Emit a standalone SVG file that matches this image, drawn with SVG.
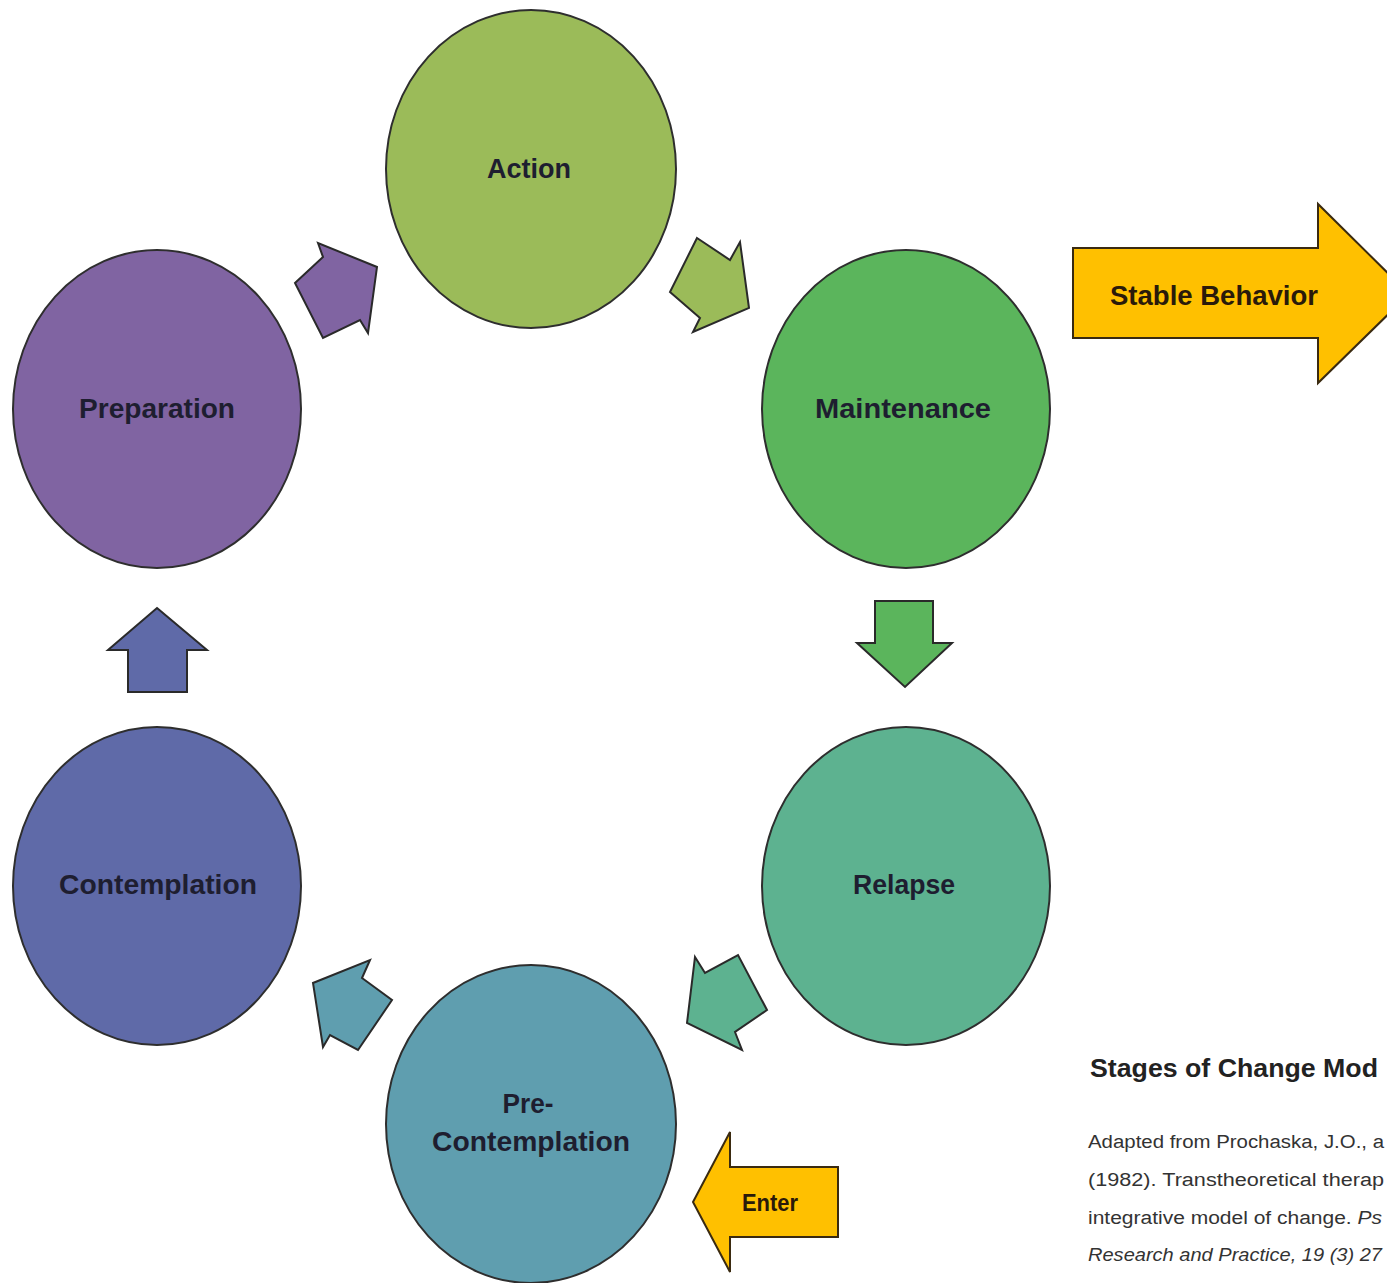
<svg xmlns="http://www.w3.org/2000/svg" width="1387" height="1283" viewBox="0 0 1387 1283">
<style>
.node{stroke:#2e2e2e;stroke-width:2}
.arr{stroke:#2a2a2a;stroke-width:2;stroke-linejoin:miter}
.lbl{font-family:"Liberation Sans",Arial,sans-serif;font-weight:bold;font-size:27px;fill:#1e1e30;text-anchor:middle}
.yl{fill:#FFC000;stroke:#3a2a10;stroke-width:2}
.ylt{font-family:"Liberation Sans",Arial,sans-serif;font-weight:bold;font-size:27px;fill:#2a1a0a;text-anchor:middle}
.title{font-family:"Liberation Sans",Arial,sans-serif;font-weight:bold;font-size:26px;fill:#222}
.cite{font-family:"Liberation Sans",Arial,sans-serif;font-size:18px;fill:#333}
</style>
<rect width="1387" height="1283" fill="#ffffff"/>
<g id="connectors">
<polygon class="arr" fill="#8064A2" points="318,243 323,257 295,283 323,338 360,320 368,333 377,267"/>
<polygon class="arr" fill="#9BBB59" points="697,238 730,260 740,242 749,308 693,332 700,318 670,292"/>
<polygon class="arr" fill="#5BB55C" points="875,601 933,601 933,643 952,643 905,687 857,643 875,643"/>
<polygon class="arr" fill="#5DB290" points="695,957 705,973 738,955 767,1010 735,1032 742,1050 687,1023"/>
<polygon class="arr" fill="#5F9EAF" points="370,960 362,978 392,1000 358,1050 330,1035 323,1047 313,983"/>
<polygon class="arr" fill="#5F6AA8" points="157,608 207,650 187,650 187,692 128,692 128,650 108,650"/>
</g>
<g id="stable-behavior">
<polygon class="yl" points="1073,248 1318,248 1318,204 1409,294 1318,383 1318,338 1073,338"/>
<text class="ylt" x="1214" y="305" textLength="208" lengthAdjust="spacingAndGlyphs">Stable Behavior</text>
</g>
<g id="enter">
<polygon class="yl" points="838,1167 838,1237 730,1237 730,1272 693,1202 730,1132 730,1167"/>
<text class="ylt" x="770" y="1211" textLength="56" lengthAdjust="spacingAndGlyphs" style="font-size:23px">Enter</text>
</g>
<g id="action">
<ellipse class="node" cx="531" cy="169" rx="145" ry="159" fill="#9BBB59"/>
<text class="lbl" x="529" y="178" textLength="84" lengthAdjust="spacingAndGlyphs">Action</text>
</g>
<g id="maintenance">
<ellipse class="node" cx="906" cy="409" rx="144" ry="159" fill="#5BB55C"/>
<text class="lbl" x="903" y="418" textLength="176" lengthAdjust="spacingAndGlyphs">Maintenance</text>
</g>
<g id="relapse">
<ellipse class="node" cx="906" cy="886" rx="144" ry="159" fill="#5DB290"/>
<text class="lbl" x="904" y="894" textLength="102" lengthAdjust="spacingAndGlyphs">Relapse</text>
</g>
<g id="pre-contemplation">
<ellipse class="node" cx="531" cy="1124" rx="145" ry="159" fill="#5F9EAF"/>
<text class="lbl" x="528" y="1113" textLength="51" lengthAdjust="spacingAndGlyphs">Pre-</text>
<text class="lbl" x="531" y="1151" textLength="198" lengthAdjust="spacingAndGlyphs">Contemplation</text>
</g>
<g id="contemplation">
<ellipse class="node" cx="157" cy="886" rx="144" ry="159" fill="#5F6AA8"/>
<text class="lbl" x="158" y="894" textLength="198" lengthAdjust="spacingAndGlyphs">Contemplation</text>
</g>
<g id="preparation">
<ellipse class="node" cx="157" cy="409" rx="144" ry="159" fill="#8064A2"/>
<text class="lbl" x="157" y="418" textLength="156" lengthAdjust="spacingAndGlyphs">Preparation</text>
</g>
<g id="caption">
<text class="title" x="1090" y="1077" textLength="288" lengthAdjust="spacingAndGlyphs">Stages of Change Mod</text>
<text class="cite" x="1088" y="1148" textLength="296" lengthAdjust="spacingAndGlyphs">Adapted from Prochaska, J.O., a</text>
<text class="cite" x="1088" y="1186" textLength="296" lengthAdjust="spacingAndGlyphs">(1982). Transtheoretical therap</text>
<text class="cite" x="1088" y="1224" textLength="294" lengthAdjust="spacingAndGlyphs">integrative model of change. <tspan font-style="italic">Ps</tspan></text>
<text class="cite" x="1088" y="1261" font-style="italic" textLength="294" lengthAdjust="spacingAndGlyphs">Research and Practice, 19 (3) 27</text>
</g>
</svg>
